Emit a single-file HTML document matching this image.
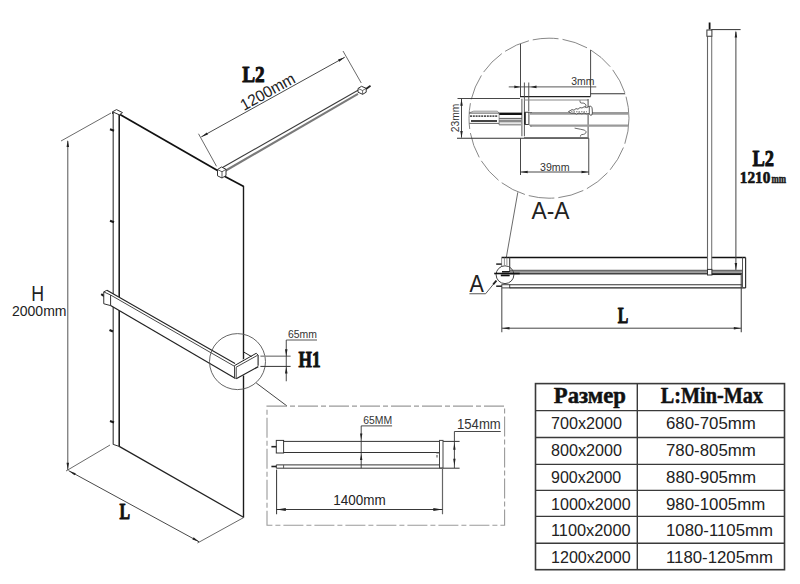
<!DOCTYPE html>
<html><head><meta charset="utf-8"><title>drawing</title>
<style>html,body{margin:0;padding:0;background:#fff;width:800px;height:584px;overflow:hidden}svg{display:block}</style>
</head><body>
<svg width="800" height="584" viewBox="0 0 800 584">
<rect x="0" y="0" width="800" height="584" fill="#fff"/>
<line x1="120" y1="114.5" x2="217.5" y2="170.5" stroke="#111" stroke-width="1.7"/>
<line x1="224" y1="176" x2="243.75" y2="186.5" stroke="#111" stroke-width="1.7"/>
<line x1="243.5" y1="186" x2="243.5" y2="361" stroke="#1a1a1a" stroke-width="1.4"/>
<line x1="243.5" y1="375.5" x2="243.5" y2="517.5" stroke="#1a1a1a" stroke-width="1.4"/>
<line x1="119.2" y1="446.4" x2="243.5" y2="517.3" stroke="#222" stroke-width="1.25"/>
<line x1="113.2" y1="112" x2="113.2" y2="444.5" stroke="#444" stroke-width="1.2"/>
<line x1="119.2" y1="114.5" x2="119.2" y2="446.4" stroke="#111" stroke-width="1.5"/>
<line x1="113.2" y1="444.4" x2="119.2" y2="446.4" stroke="#333" stroke-width="1"/>
<polygon points="112.5,111.8 116.5,109.6 122.5,112.6 119.3,114.8" stroke="#333" stroke-width="1" fill="#fff"/>
<line x1="112.5" y1="111.8" x2="112.5" y2="114" stroke="#333" stroke-width="1"/>
<line x1="67.8" y1="141" x2="67.8" y2="470" stroke="#555" stroke-width="1"/>
<polygon points="67.8,140 69.05,147 66.55,147" fill="#222"/>
<polygon points="67.8,469.8 66.55,462.8 69.05,462.8" fill="#222"/>
<line x1="61" y1="141" x2="111" y2="113" stroke="#444" stroke-width="0.8"/>
<line x1="66" y1="471" x2="110" y2="445" stroke="#444" stroke-width="0.8"/>
<text x="31.3" y="301.2" font-family="Liberation Sans" font-size="22" font-weight="normal" fill="#222" text-anchor="start" textLength="12.8" lengthAdjust="spacingAndGlyphs">H</text>
<text x="12" y="316.1" font-family="Liberation Sans" font-size="15" font-weight="normal" fill="#222" text-anchor="start" textLength="54.5" lengthAdjust="spacingAndGlyphs">2000mm</text>
<line x1="68.5" y1="470.6" x2="199.1" y2="541.8" stroke="#333" stroke-width="0.9"/>
<polygon points="69,470.9 75.74,473.18 74.53,475.37" fill="#222"/>
<polygon points="199.1,541.8 192.36,539.52 193.57,537.33" fill="#222"/>
<line x1="243.75" y1="517.5" x2="197.5" y2="543" stroke="#444" stroke-width="0.8"/>
<text x="119.5" y="519" font-family="Liberation Serif" font-size="23" font-weight="bold" fill="#111" text-anchor="start" textLength="10.5" lengthAdjust="spacingAndGlyphs" stroke="#111" stroke-width="1" stroke-linejoin="round">L</text>
<line x1="110" y1="129.3" x2="114" y2="130.8" stroke="#1a1a1a" stroke-width="2.2"/>
<line x1="110" y1="220.8" x2="114" y2="222.3" stroke="#1a1a1a" stroke-width="2.2"/>
<line x1="101.2" y1="294.2" x2="104.6" y2="296.4" stroke="#1a1a1a" stroke-width="2.2"/>
<line x1="109.5" y1="330" x2="113" y2="331.5" stroke="#1a1a1a" stroke-width="2.2"/>
<line x1="110" y1="421" x2="114" y2="422.5" stroke="#1a1a1a" stroke-width="2.2"/>
<line x1="222.5" y1="167.5" x2="358" y2="90.2" stroke="#3a3a3a" stroke-width="1.1"/>
<line x1="225" y1="171" x2="358" y2="93.9" stroke="#7a7a7a" stroke-width="2.1"/>
<polygon points="217.5,169.5 221.5,167 226,169.3 226,175.5 222,178 217.5,175.8" stroke="#333" stroke-width="1" fill="#fff"/>
<line x1="217.5" y1="169.5" x2="222" y2="171.8" stroke="#333" stroke-width="0.8"/>
<line x1="222" y1="171.8" x2="226" y2="169.3" stroke="#333" stroke-width="0.8"/>
<line x1="222" y1="171.8" x2="222" y2="178" stroke="#333" stroke-width="0.8"/>
<polygon points="358,88.5 361.5,86.3 366.2,88.3 366.2,92.2 362.6,94.3 358,92.2" stroke="#333" stroke-width="1" fill="#fff"/>
<line x1="358" y1="88.5" x2="362.6" y2="90.5" stroke="#444" stroke-width="0.8"/>
<line x1="362.6" y1="90.5" x2="366.2" y2="88.3" stroke="#444" stroke-width="0.8"/>
<line x1="362.6" y1="90.5" x2="362.6" y2="94.3" stroke="#444" stroke-width="0.8"/>
<line x1="366" y1="89" x2="370.5" y2="85.8" stroke="#222" stroke-width="1.8"/>
<line x1="201.25" y1="136.9" x2="344.75" y2="57.25" stroke="#333" stroke-width="0.9"/>
<polygon points="201.25,136.9 206.75,132.39 207.97,134.57" fill="#222"/>
<polygon points="344.75,57.25 339.23,61.74 338.02,59.55" fill="#222"/>
<line x1="198.5" y1="133.75" x2="216.5" y2="166.3" stroke="#444" stroke-width="0.8"/>
<line x1="343" y1="51" x2="361.25" y2="83" stroke="#444" stroke-width="0.8"/>
<text x="242.2" y="81.6" font-family="Liberation Serif" font-size="24" font-weight="bold" fill="#111" text-anchor="start" textLength="22.5" lengthAdjust="spacingAndGlyphs" stroke="#111" stroke-width="1" stroke-linejoin="round">L2</text>
<text x="244" y="111" font-family="Liberation Sans" font-size="16" font-weight="normal" fill="#222" text-anchor="start" textLength="60" lengthAdjust="spacingAndGlyphs" transform="rotate(-29 244 111)">1200mm</text>
<polygon points="103.75,291.9 106.9,290.25 235,363.5 256.2,352.8 258.1,355 258.3,366.6 236.2,378.8 234.3,378.2 110.6,305.6 103.75,303.75" stroke="none" stroke-width="0" fill="#fff"/>
<line x1="103.75" y1="291.9" x2="103.75" y2="303.75" stroke="#333" stroke-width="1"/>
<line x1="103.75" y1="303.75" x2="110.6" y2="305.6" stroke="#333" stroke-width="1"/>
<line x1="103.75" y1="291.9" x2="106.9" y2="290.25" stroke="#333" stroke-width="1"/>
<line x1="103.75" y1="291.9" x2="110.6" y2="295" stroke="#333" stroke-width="0.9"/>
<line x1="106.9" y1="290.25" x2="235" y2="363.5" stroke="#222" stroke-width="1.1"/>
<line x1="110.6" y1="295" x2="234.5" y2="366.3" stroke="#333" stroke-width="0.9"/>
<line x1="110.6" y1="295" x2="110.6" y2="305.6" stroke="#333" stroke-width="1"/>
<line x1="110.6" y1="305.6" x2="235.5" y2="378.6" stroke="#222" stroke-width="1.2"/>
<line x1="234.5" y1="365.6" x2="256.2" y2="353.3" stroke="#222" stroke-width="1"/>
<line x1="236" y1="367.3" x2="257.5" y2="355.3" stroke="#333" stroke-width="0.9"/>
<line x1="256.2" y1="353.3" x2="258.1" y2="355" stroke="#333" stroke-width="1"/>
<line x1="258.1" y1="355" x2="258.1" y2="365.8" stroke="#222" stroke-width="1.1"/>
<line x1="236.2" y1="378.8" x2="258.3" y2="366.6" stroke="#222" stroke-width="1.2"/>
<line x1="234.5" y1="365.6" x2="234.5" y2="378.2" stroke="#444" stroke-width="1"/>
<line x1="236.2" y1="367.3" x2="236.2" y2="378.8" stroke="#444" stroke-width="1"/>
<line x1="243.5" y1="351.9" x2="251.6" y2="356.6" stroke="#222" stroke-width="1"/>
<circle cx="237.5" cy="361.6" r="28" stroke="#555" stroke-width="0.9" fill="none"/>
<line x1="260.4" y1="356.2" x2="290.6" y2="356.2" stroke="#888" stroke-width="1.4"/>
<line x1="260.4" y1="366.4" x2="290.6" y2="366.4" stroke="#333" stroke-width="1"/>
<line x1="286.25" y1="340" x2="286.25" y2="381.25" stroke="#333" stroke-width="0.9"/>
<polygon points="286.25,356.2 285,349.2 287.5,349.2" fill="#222"/>
<polygon points="286.25,366.4 287.5,373.4 285,373.4" fill="#222"/>
<line x1="286.25" y1="340" x2="317" y2="340" stroke="#444" stroke-width="0.9"/>
<text x="288" y="338" font-family="Liberation Sans" font-size="10.5" font-weight="normal" fill="#333" text-anchor="start" textLength="29" lengthAdjust="spacingAndGlyphs">65mm</text>
<text x="298.5" y="367.2" font-family="Liberation Serif" font-size="24" font-weight="bold" fill="#111" text-anchor="start" textLength="22" lengthAdjust="spacingAndGlyphs" stroke="#111" stroke-width="1" stroke-linejoin="round">H1</text>
<line x1="256.25" y1="383" x2="287" y2="406" stroke="#444" stroke-width="1"/>
<rect x="267" y="406.1" width="237.6" height="119.2" stroke="#9a9a9a" stroke-width="1.1" fill="none" stroke-dasharray="20,3,5,3"/>
<rect x="276.3" y="440.4" width="7.3" height="12.6" stroke="#333" stroke-width="1" fill="#fff"/>
<line x1="271.4" y1="446.7" x2="276.3" y2="446.7" stroke="#222" stroke-width="1.6"/>
<line x1="283.6" y1="441.4" x2="459.6" y2="441.4" stroke="#333" stroke-width="1"/>
<line x1="283.6" y1="452.5" x2="439.5" y2="452.5" stroke="#333" stroke-width="1"/>
<line x1="276.3" y1="464.9" x2="439.5" y2="464.9" stroke="#333" stroke-width="1"/>
<line x1="276.3" y1="468.2" x2="459.6" y2="468.2" stroke="#333" stroke-width="1"/>
<line x1="283.6" y1="464.9" x2="283.6" y2="468.2" stroke="#555" stroke-width="1"/>
<line x1="276.3" y1="464.9" x2="276.3" y2="468.2" stroke="#333" stroke-width="1"/>
<line x1="271.4" y1="466.5" x2="276.3" y2="466.5" stroke="#222" stroke-width="1.6"/>
<rect x="439.5" y="440.4" width="3.5" height="27.5" stroke="#444" stroke-width="1" fill="#fff"/>
<line x1="436.3" y1="453" x2="439.3" y2="453" stroke="#555" stroke-width="0.9"/>
<line x1="437" y1="455" x2="437" y2="457.5" stroke="#444" stroke-width="1"/>
<line x1="361.2" y1="425.9" x2="361.2" y2="468.2" stroke="#333" stroke-width="0.9"/>
<polygon points="361.2,439.4 360,433.4 362.4,433.4" fill="#222"/>
<polygon points="361.2,454 362.4,460 360,460" fill="#222"/>
<line x1="361.2" y1="425.9" x2="392.1" y2="425.9" stroke="#333" stroke-width="0.9"/>
<text x="363.25" y="424" font-family="Liberation Sans" font-size="11" font-weight="normal" fill="#333" text-anchor="start" textLength="28.85" lengthAdjust="spacingAndGlyphs">65MM</text>
<line x1="454.4" y1="431.5" x2="454.4" y2="468" stroke="#333" stroke-width="0.9"/>
<polygon points="454.4,442.8 455.6,449.8 453.2,449.8" fill="#222"/>
<polygon points="454.4,465.8 453.2,458.8 455.6,458.8" fill="#222"/>
<line x1="454.4" y1="431.5" x2="500.75" y2="431.5" stroke="#333" stroke-width="0.9"/>
<text x="457" y="429.4" font-family="Liberation Sans" font-size="14" font-weight="normal" fill="#333" text-anchor="start" textLength="43.75" lengthAdjust="spacingAndGlyphs">154mm</text>
<line x1="276.6" y1="469.6" x2="276.6" y2="514.25" stroke="#333" stroke-width="1"/>
<line x1="442.5" y1="468.2" x2="442.5" y2="514.25" stroke="#666" stroke-width="1.2"/>
<line x1="276.6" y1="509.5" x2="442.5" y2="509.5" stroke="#222" stroke-width="0.9"/>
<polygon points="276.8,509.5 285.8,507.9 285.8,511.1" fill="#222"/>
<polygon points="442.3,509.5 433.3,511.1 433.3,507.9" fill="#222"/>
<text x="333.2" y="504.8" font-family="Liberation Sans" font-size="14" font-weight="normal" fill="#222" text-anchor="start" textLength="52.45" lengthAdjust="spacingAndGlyphs">1400mm</text>
<clipPath id="cc"><circle cx="549" cy="118.2" r="80"/></clipPath>
<circle cx="549" cy="118.2" r="80" stroke="#888" stroke-width="1" fill="none" stroke-dasharray="26,4"/>
<g clip-path="url(#cc)">
<line x1="520.5" y1="43.75" x2="520.5" y2="96.9" stroke="#333" stroke-width="0.9"/>
<line x1="590.6" y1="50" x2="590.6" y2="96.25" stroke="#333" stroke-width="0.9"/>
<line x1="590.6" y1="93.75" x2="628" y2="93.75" stroke="#333" stroke-width="1"/>
<line x1="520" y1="96.6" x2="590.6" y2="96.6" stroke="#222" stroke-width="1.3"/>
<line x1="521.9" y1="98.75" x2="521.9" y2="136.25" stroke="#444" stroke-width="0.9"/>
<line x1="524.4" y1="82.5" x2="524.4" y2="136.25" stroke="#444" stroke-width="0.9"/>
<line x1="528.75" y1="82.5" x2="528.75" y2="111.25" stroke="#444" stroke-width="0.9"/>
<line x1="524" y1="100" x2="588" y2="100" stroke="#888" stroke-width="1.2"/>
<line x1="588.1" y1="99" x2="588.1" y2="138" stroke="#333" stroke-width="0.9"/>
<line x1="530" y1="113.75" x2="628" y2="113.75" stroke="#9a9a9a" stroke-width="2.1"/>
<line x1="530" y1="125.6" x2="628" y2="125.6" stroke="#9a9a9a" stroke-width="2.1"/>
<line x1="530" y1="112.5" x2="628" y2="112.5" stroke="#666" stroke-width="0.6"/>
<line x1="524" y1="137.5" x2="588" y2="137.5" stroke="#888" stroke-width="1.1"/>
<polyline points="468.5,113.1 473.75,111.2 497.4,111.2 499.1,113.1" stroke="#777" stroke-width="0.8" fill="none"/>
<line x1="468.5" y1="113.1" x2="499.1" y2="113.1" stroke="#444" stroke-width="0.9"/>
<line x1="470" y1="116.2" x2="498" y2="116.2" stroke="#555" stroke-width="1.7" stroke-dasharray="2,0.8"/>
<line x1="471" y1="121" x2="497" y2="121" stroke="#444" stroke-width="1.9"/>
<line x1="468.5" y1="123.4" x2="499.1" y2="123.4" stroke="#555" stroke-width="0.9"/>
<rect x="499.1" y="112.6" width="22.8" height="2.4" stroke="none" stroke-width="0" fill="#111"/>
<line x1="499.1" y1="118.4" x2="521.9" y2="118.4" stroke="#444" stroke-width="0.9"/>
<rect x="499.1" y="119.6" width="22.8" height="2.8" stroke="none" stroke-width="0" fill="#8a8a8a"/>
<line x1="499.1" y1="124.6" x2="521.9" y2="124.6" stroke="#9a9a9a" stroke-width="1.8"/>
<line x1="499.1" y1="113" x2="499.1" y2="125" stroke="#666" stroke-width="0.7"/>
<line x1="524.9" y1="112.25" x2="524.9" y2="124.5" stroke="#111" stroke-width="1.5"/>
<rect x="525.4" y="112.25" width="3.5" height="12.25" stroke="#444" stroke-width="1" fill="#fff"/>
<polyline points="528.9,112.6 532,112.5" stroke="#666" stroke-width="0.9" fill="none"/>
<path d="M528.9,124.5 Q529.5,126.2 532,126.2" stroke="#888" stroke-width="1" fill="none"/>
<path d="M568.5,111.6 L572,109.6 L574,110.2 L576,108.6 L578,109.2 L580,107.6 L582,108 L584.5,106.6 L586.6,107.6 L589.3,106.4 Q591.8,105.4 592.2,109 L592.4,113 Q592.2,115.6 590.6,115.4 L589.3,113.6 L586,113.8 L584,112.8 L582,113.9 L579,113 L576.5,114 L574,113 L571.5,113.4 Z" stroke="#333" stroke-width="0.8" fill="#fff"/>
<line x1="571" y1="111.8" x2="587" y2="111.8" stroke="#555" stroke-width="0.8" stroke-dasharray="1.5,1"/>
<line x1="589.3" y1="106.4" x2="589.3" y2="113.6" stroke="#333" stroke-width="0.8"/>
<path d="M580,100.4 Q579.6,102.8 581,103 Q584.5,102.4 586,104.8 Q586.6,107 584.6,107.7" stroke="#444" stroke-width="0.8" fill="none"/>
<path d="M574.6,128.1 L580.8,129.3 Q585.8,129.8 586.2,131.8 Q586,134.4 581.6,134.6 Q580.4,135 580.4,136.6" stroke="#444" stroke-width="0.8" fill="none"/>
</g>
<line x1="457.5" y1="98.5" x2="520" y2="98.5" stroke="#333" stroke-width="0.9"/>
<line x1="457" y1="138.25" x2="588.75" y2="138.25" stroke="#333" stroke-width="1"/>
<line x1="461.5" y1="99" x2="461.5" y2="137.6" stroke="#333" stroke-width="0.9"/>
<polygon points="461.5,98.7 462.75,105.7 460.25,105.7" fill="#222"/>
<polygon points="461.5,138 460.25,131 462.75,131" fill="#222"/>
<text x="459.3" y="118" font-family="Liberation Sans" font-size="11" font-weight="normal" fill="#333" text-anchor="middle" textLength="28.5" lengthAdjust="spacingAndGlyphs" transform="rotate(-90 459.3 118)">23mm</text>
<line x1="508.75" y1="86.9" x2="596.25" y2="86.9" stroke="#444" stroke-width="0.9"/>
<polygon points="520.3,86.9 514.3,88.3 514.3,85.5" fill="#222"/>
<polygon points="530.5,86.9 536.5,85.5 536.5,88.3" fill="#222"/>
<text x="571.25" y="85" font-family="Liberation Sans" font-size="11" font-weight="normal" fill="#333" text-anchor="start" textLength="23.15" lengthAdjust="spacingAndGlyphs">3mm</text>
<line x1="520.5" y1="138.25" x2="520.5" y2="175" stroke="#333" stroke-width="0.9"/>
<line x1="588.75" y1="138.25" x2="588.75" y2="175" stroke="#333" stroke-width="0.9"/>
<line x1="520.5" y1="172" x2="588.75" y2="172" stroke="#333" stroke-width="0.9"/>
<polygon points="520.7,172 527.7,170.75 527.7,173.25" fill="#222"/>
<polygon points="588.5,172 581.5,173.25 581.5,170.75" fill="#222"/>
<text x="540" y="170.5" font-family="Liberation Sans" font-size="11" font-weight="normal" fill="#333" text-anchor="start" textLength="29.5" lengthAdjust="spacingAndGlyphs">39mm</text>
<text x="531.5" y="218.6" font-family="Liberation Sans" font-size="23.5" font-weight="normal" fill="#222" text-anchor="start" textLength="38" lengthAdjust="spacingAndGlyphs">A-A</text>
<line x1="517.8" y1="192.3" x2="506.3" y2="257.5" stroke="#444" stroke-width="0.8"/>
<line x1="501.6" y1="257.5" x2="745.6" y2="257.5" stroke="#111" stroke-width="1.7"/>
<line x1="501.6" y1="257.5" x2="501.6" y2="267" stroke="#888" stroke-width="0.9"/>
<line x1="509.7" y1="257.5" x2="509.7" y2="272" stroke="#444" stroke-width="1.1"/>
<line x1="504.4" y1="257.5" x2="504.4" y2="265" stroke="#777" stroke-width="0.8"/>
<line x1="506.9" y1="257.5" x2="506.9" y2="265" stroke="#777" stroke-width="0.8"/>
<line x1="510" y1="270.8" x2="742.5" y2="270.8" stroke="#6a6a6a" stroke-width="2"/>
<line x1="510" y1="273.5" x2="742.5" y2="273.5" stroke="#444" stroke-width="1.8"/>
<circle cx="505" cy="274.7" r="8.9" stroke="#444" stroke-width="1" fill="none"/>
<line x1="496.2" y1="264.1" x2="501.6" y2="264.1" stroke="#222" stroke-width="1.5"/>
<line x1="494.2" y1="273.5" x2="519.7" y2="273.5" stroke="#111" stroke-width="1.6"/>
<line x1="502" y1="271.8" x2="509.7" y2="271.8" stroke="#111" stroke-width="1.5"/>
<line x1="500.8" y1="275.4" x2="509.7" y2="275.4" stroke="#111" stroke-width="1.8"/>
<rect x="501.8" y="284.7" width="7.9" height="3.2" stroke="#444" stroke-width="1" fill="#fff"/>
<line x1="509.7" y1="284.7" x2="742.5" y2="284.7" stroke="#333" stroke-width="1.1"/>
<line x1="509.7" y1="287.9" x2="745.6" y2="287.9" stroke="#222" stroke-width="1.3"/>
<line x1="496.2" y1="286.2" x2="501.8" y2="286.2" stroke="#222" stroke-width="1.5"/>
<line x1="501.8" y1="288" x2="501.8" y2="332.2" stroke="#555" stroke-width="1.1"/>
<line x1="742.5" y1="257.5" x2="742.5" y2="288.1" stroke="#555" stroke-width="1"/>
<line x1="745.6" y1="257.5" x2="745.6" y2="288.1" stroke="#333" stroke-width="1.2"/>
<rect x="708" y="255.5" width="3.4" height="4" stroke="none" stroke-width="0" fill="#fff"/>
<line x1="707.5" y1="36.25" x2="707.5" y2="270" stroke="#666" stroke-width="1.1"/>
<line x1="711.7" y1="36.25" x2="711.7" y2="270" stroke="#777" stroke-width="1.1"/>
<rect x="707.5" y="269.4" width="4.4" height="5.6" stroke="#333" stroke-width="1" fill="#fff"/>
<rect x="706.9" y="30" width="5" height="6.25" stroke="#333" stroke-width="1" fill="#fff"/>
<line x1="709.6" y1="22.5" x2="709.6" y2="29.4" stroke="#111" stroke-width="1.8"/>
<line x1="711.25" y1="29.6" x2="740.6" y2="29.6" stroke="#333" stroke-width="1"/>
<line x1="735.9" y1="31.9" x2="735.9" y2="270" stroke="#444" stroke-width="1"/>
<polygon points="735.9,30.5 737.15,37.5 734.65,37.5" fill="#222"/>
<polygon points="735.9,270 734.65,263 737.15,263" fill="#222"/>
<line x1="711.9" y1="274.4" x2="741.25" y2="274.4" stroke="#222" stroke-width="1.3"/>
<line x1="741.25" y1="273.75" x2="741.25" y2="332.2" stroke="#444" stroke-width="1.1"/>
<line x1="501.9" y1="328.2" x2="741.25" y2="328.2" stroke="#444" stroke-width="1"/>
<polygon points="502.5,328.2 509.5,326.95 509.5,329.45" fill="#222"/>
<polygon points="740.8,328.2 733.8,329.45 733.8,326.95" fill="#222"/>
<text x="617.75" y="323.3" font-family="Liberation Serif" font-size="24" font-weight="bold" fill="#111" text-anchor="start" textLength="10.5" lengthAdjust="spacingAndGlyphs" stroke="#111" stroke-width="1" stroke-linejoin="round">L</text>
<text x="752.4" y="166.4" font-family="Liberation Serif" font-size="24" font-weight="bold" fill="#111" text-anchor="start" textLength="21.5" lengthAdjust="spacingAndGlyphs" stroke="#111" stroke-width="1" stroke-linejoin="round">L2</text>
<text x="739.8" y="182.8" font-family="Liberation Serif" font-size="16" font-weight="bold" fill="#111" text-anchor="start" textLength="30.6" lengthAdjust="spacingAndGlyphs" stroke="#111" stroke-width="0.6" stroke-linejoin="round">1210</text>
<text x="771.4" y="182.8" font-family="Liberation Serif" font-size="12" font-weight="bold" fill="#222" text-anchor="start" textLength="14.6" lengthAdjust="spacingAndGlyphs" stroke="#111" stroke-width="0.5" stroke-linejoin="round">mm</text>
<text x="469.4" y="291.9" font-family="Liberation Sans" font-size="23.5" font-weight="normal" fill="#222" text-anchor="start" textLength="14.35" lengthAdjust="spacingAndGlyphs">A</text>
<polyline points="469.4,293.75 485.6,293.75 496.2,280.8" stroke="#444" stroke-width="0.9" fill="none"/>
<line x1="493.2" y1="284.4" x2="496.4" y2="280.6" stroke="#222" stroke-width="1.8"/>
<rect x="535.5" y="383.6" width="249" height="186.1" stroke="#3a3a3a" stroke-width="1.6" fill="none"/>
<line x1="637.3" y1="383.6" x2="637.3" y2="569.7" stroke="#3a3a3a" stroke-width="1.4"/>
<line x1="535.5" y1="410.6" x2="784.5" y2="410.6" stroke="#3a3a3a" stroke-width="1.4"/>
<line x1="535.5" y1="437.5" x2="784.5" y2="437.5" stroke="#3a3a3a" stroke-width="1.4"/>
<line x1="535.5" y1="464.4" x2="784.5" y2="464.4" stroke="#3a3a3a" stroke-width="1.4"/>
<line x1="535.5" y1="490.4" x2="784.5" y2="490.4" stroke="#3a3a3a" stroke-width="1.4"/>
<line x1="535.5" y1="516.4" x2="784.5" y2="516.4" stroke="#3a3a3a" stroke-width="1.4"/>
<line x1="535.5" y1="543.2" x2="784.5" y2="543.2" stroke="#3a3a3a" stroke-width="1.4"/>
<text x="553.8" y="402.6" font-family="Liberation Serif" font-size="23.5" font-weight="bold" fill="#111" text-anchor="start" textLength="72.2" lengthAdjust="spacingAndGlyphs" stroke="#111" stroke-width="0.5" stroke-linejoin="round">Размер</text>
<text x="660.7" y="402.7" font-family="Liberation Serif" font-size="23.5" font-weight="bold" fill="#111" text-anchor="start" textLength="102.3" lengthAdjust="spacingAndGlyphs" stroke="#111" stroke-width="0.5" stroke-linejoin="round">L:Min-Max</text>
<text x="551" y="429.2" font-family="Liberation Sans" font-size="17" font-weight="normal" fill="#222" text-anchor="start" textLength="71" lengthAdjust="spacingAndGlyphs">700x2000</text>
<text x="666" y="429.2" font-family="Liberation Sans" font-size="17" font-weight="normal" fill="#222" text-anchor="start" textLength="89.8" lengthAdjust="spacingAndGlyphs">680-705mm</text>
<text x="551" y="456.2" font-family="Liberation Sans" font-size="17" font-weight="normal" fill="#222" text-anchor="start" textLength="71" lengthAdjust="spacingAndGlyphs">800x2000</text>
<text x="666" y="456.2" font-family="Liberation Sans" font-size="17" font-weight="normal" fill="#222" text-anchor="start" textLength="89.8" lengthAdjust="spacingAndGlyphs">780-805mm</text>
<text x="551" y="483" font-family="Liberation Sans" font-size="17" font-weight="normal" fill="#222" text-anchor="start" textLength="70.2" lengthAdjust="spacingAndGlyphs">900x2000</text>
<text x="666" y="483" font-family="Liberation Sans" font-size="17" font-weight="normal" fill="#222" text-anchor="start" textLength="90" lengthAdjust="spacingAndGlyphs">880-905mm</text>
<text x="551" y="509.6" font-family="Liberation Sans" font-size="17" font-weight="normal" fill="#222" text-anchor="start" textLength="79.6" lengthAdjust="spacingAndGlyphs">1000x2000</text>
<text x="666" y="509.6" font-family="Liberation Sans" font-size="17" font-weight="normal" fill="#222" text-anchor="start" textLength="99.2" lengthAdjust="spacingAndGlyphs">980-1005mm</text>
<text x="551" y="536" font-family="Liberation Sans" font-size="17" font-weight="normal" fill="#222" text-anchor="start" textLength="79.6" lengthAdjust="spacingAndGlyphs">1100x2000</text>
<text x="666" y="536" font-family="Liberation Sans" font-size="17" font-weight="normal" fill="#222" text-anchor="start" textLength="107" lengthAdjust="spacingAndGlyphs">1080-1105mm</text>
<text x="551" y="562.5" font-family="Liberation Sans" font-size="17" font-weight="normal" fill="#222" text-anchor="start" textLength="79.6" lengthAdjust="spacingAndGlyphs">1200x2000</text>
<text x="666" y="562.5" font-family="Liberation Sans" font-size="17" font-weight="normal" fill="#222" text-anchor="start" textLength="107" lengthAdjust="spacingAndGlyphs">1180-1205mm</text>
</svg>
</body></html>
